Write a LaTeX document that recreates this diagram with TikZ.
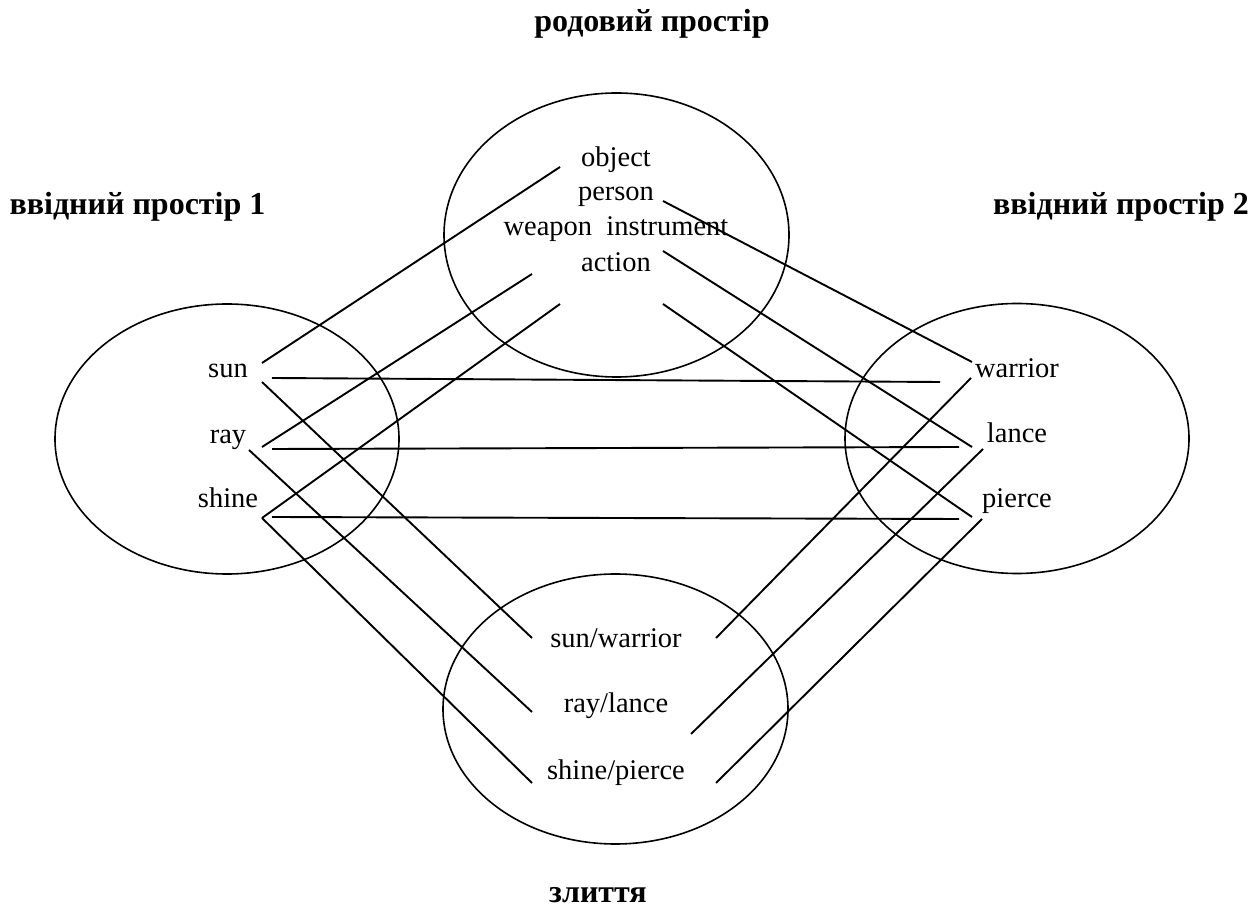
\documentclass[tikz,border=0pt]{standalone}
\usepackage{fontspec}
\setmainfont{Liberation Serif}
\usetikzlibrary{shapes.geometric,calc}

\tikzset{
  space/.style={draw, ellipse, line width=0.8pt, inner sep=0pt, outer sep=0pt,
    minimum width=172pt, minimum height=135pt},
  word/.style={font=\fontsize{14.25}{17}\selectfont, anchor=base, inner sep=0pt},
  title/.style={font=\fontsize{16}{19}\selectfont\bfseries, anchor=base, inner sep=0pt},
  link/.style={line width=0.95pt}
}

\begin{document}
\begin{tikzpicture}[x=0.5pt, y=-0.5pt]
    \useasboundingbox (0,0) rectangle (1259,908);
    % Spaces
    \node[space, minimum width=172.5pt, minimum height=142pt] (generic) at (616.5,235) {};
    \node[space] (input1) at (227,439) {};
    \node[space] (input2) at (1017,438.5) {};
    \node[space, minimum width=172.5pt] (blend) at (615.5,709) {};
    % Titles
    \node[title] (tgeneric) at (652,32) {родовий простір};
    \node[title] (tinput1) at (137.5,215) {ввідний простір 1};
    \node[title] (tinput2) at (1121,215) {ввідний простір 2};
    \node[title] (tblend) at (598,902) {злиття};
    % Generic space
    \node[word] (object) at (616,167) {object};
    \node[word] (person) at (616,201) {person};
    \node[word] (weapon) at (616,236) {weapon\ \ instrument};
    \node[word] (action) at (616,272) {action};
    % Input space 1
    \node[word] (sun) at (228,378) {sun};
    \node[word] (ray) at (228,444) {ray};
    \node[word] (shine) at (228,508) {shine};
    % Input space 2
    \node[word] (warrior) at (1017,378) {warrior};
    \node[word] (lance) at (1017,443) {lance};
    \node[word] (pierce) at (1017,508) {pierce};
    % Blend
    \node[word] (sunwarrior) at (616,648) {sun/warrior};
    \node[word] (raylance) at (616,713) {ray/lance};
    \node[word] (shinepierce) at (616,779) {shine/pierce};
    % Links to generic space
    \draw[link] ($(sun.base)+(34,-15)$) -- ($(object.base)+(-56,0)$);
    \draw[link] ($(ray.base)+(34,3)$) -- ($(weapon.base)+(-84,38)$);
    \draw[link] ($(shine.base)+(34,10)$) -- ($(action.base)+(-56,32)$);
    \draw[link] ($(person.base)+(47,0)$) -- ($(warrior.base)+(-45,-16)$);
    \draw[link] ($(weapon.base)+(47,15)$) -- ($(lance.base)+(-45,4)$);
    \draw[link] ($(action.base)+(47,32)$) -- ($(pierce.base)+(-45,9)$);
    % Links between inputs
    \draw[link] ($(sun.base)+(44,0)$) -- ($(warrior.base)+(-77,4)$);
    \draw[link] ($(ray.base)+(44,5)$) -- ($(lance.base)+(-58,4)$);
    \draw[link] ($(shine.base)+(44,9)$) -- ($(pierce.base)+(-58,11)$);
    % Links to blend
    \draw[link] ($(sun.base)+(34,4)$) -- ($(sunwarrior.base)+(-84,-10)$);
    \draw[link] ($(ray.base)+(21,6)$) -- ($(raylance.base)+(-84,-1)$);
    \draw[link] ($(shine.base)+(34,10)$) -- ($(shinepierce.base)+(-84,4)$);
    \draw[link] ($(warrior.base)+(-46,0)$) -- ($(sunwarrior.base)+(100,-10)$);
    \draw[link] ($(lance.base)+(-34,6)$) -- ($(raylance.base)+(75,21)$);
    \draw[link] ($(pierce.base)+(-35,11)$) -- ($(shinepierce.base)+(100,4)$);
\end{tikzpicture}
\end{document}
